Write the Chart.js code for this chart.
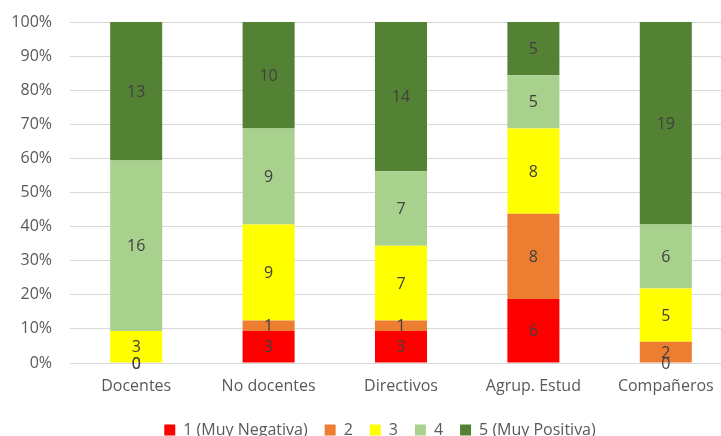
<!DOCTYPE html>
<html>
<head>
<meta charset="utf-8">
<script src="https://cdn.jsdelivr.net/npm/chart.js@4.4.1/dist/chart.umd.min.js"></script>
<style>
  html, body { margin: 0; padding: 0; overflow: hidden; background: #fff; }
  #wrap { position: absolute; left: 0; top: 0; width: 760px; height: 436px; }
</style>
</head>
<body>
<div id="wrap"><canvas id="graph1"></canvas></div>
<script>
var categorias = ['Docentes', 'No docentes', 'Directivos', 'Agrup. Estud', 'Compañeros'];
var nombres = ['1 (Muy Negativa)', '2', '3', '4', '5 (Muy Positiva)'];
var valor1 = [0, 3, 3, 6, 0];
var valor2 = [0, 1, 1, 8, 2];
var valor3 = [3, 9, 7, 8, 5];
var valor4 = [16, 9, 7, 5, 6];
var valor5 = [13, 10, 14, 5, 19];
var colores = ['#FF0000', '#ED7D31', '#FFFF00', '#A9D18E', '#548235'];

var series = [valor1, valor2, valor3, valor4, valor5];
var totales = categorias.map(function (c, i) {
  return series.reduce(function (s, v) { return s + v[i]; }, 0);
});

var fuente = '"Open Sans", sans-serif';

var datasets = series.map(function (vals, k) {
  return {
    label: nombres[k],
    data: vals.map(function (v, i) { return v / totales[i] * 100; }),
    raw: vals,
    backgroundColor: colores[k],
    borderWidth: 0,
    categoryPercentage: 1,
    barPercentage: 0.393
  };
});

// numbers inside each segment
var etiquetas = {
  id: 'etiquetas',
  afterDatasetsDraw: function (chart) {
    var ctx = chart.ctx;
    ctx.save();
    ctx.font = '16px ' + fuente;
    ctx.fillStyle = '#404040';
    ctx.textAlign = 'center';
    ctx.textBaseline = 'middle';
    chart.data.datasets.forEach(function (ds, k) {
      chart.getDatasetMeta(k).data.forEach(function (bar, i) {
        var y = (bar.y + bar.base) / 2;
        ctx.fillText(String(ds.raw[i]), bar.x, y + 1);
      });
    });
    ctx.restore();
  }
};

var ctx = document.getElementById('graph1').getContext('2d');

var graph1 = new Chart(ctx, {
  type: 'bar',
  data: { labels: categorias, datasets: datasets },
  plugins: [etiquetas],
  options: {
    responsive: true,
    maintainAspectRatio: false,
    animation: false,
    layout: { padding: { top: 22, bottom: -12, left: 0, right: 0 } },
    plugins: {
      tooltip: { enabled: false },
      legend: {
        position: 'bottom',
        labels: {
          boxWidth: 11,
          boxHeight: 11,
          padding: 17,
          color: '#595959',
          font: { family: fuente, size: 16 }
        }
      }
    },
    scales: {
      x: {
        stacked: true,
        grid: { display: false, drawTicks: false },
        border: { display: false },
        ticks: { color: '#595959', padding: 14, font: { family: fuente, size: 16 } },
        afterFit: function (s) { s.height = 42; }
      },
      y: {
        stacked: true,
        min: 0,
        max: 100,
        grid: { color: '#D9D9D9', drawTicks: true, tickLength: 18, tickColor: 'rgba(0,0,0,0)' },
        border: { display: false },
        ticks: {
          stepSize: 10,
          padding: 0,
          color: '#595959',
          font: { family: fuente, size: 16 },
          callback: function (v) { return v + '%'; }
        },
        afterFit: function (s) { s.width = 70; }
      },
      derecha: {
        type: 'linear',
        position: 'right',
        grid: { display: false, drawTicks: false },
        border: { display: false },
        ticks: { display: false },
        afterFit: function (s) { s.width = 28; }
      }
    }
  }
});
</script>
</body>
</html>
